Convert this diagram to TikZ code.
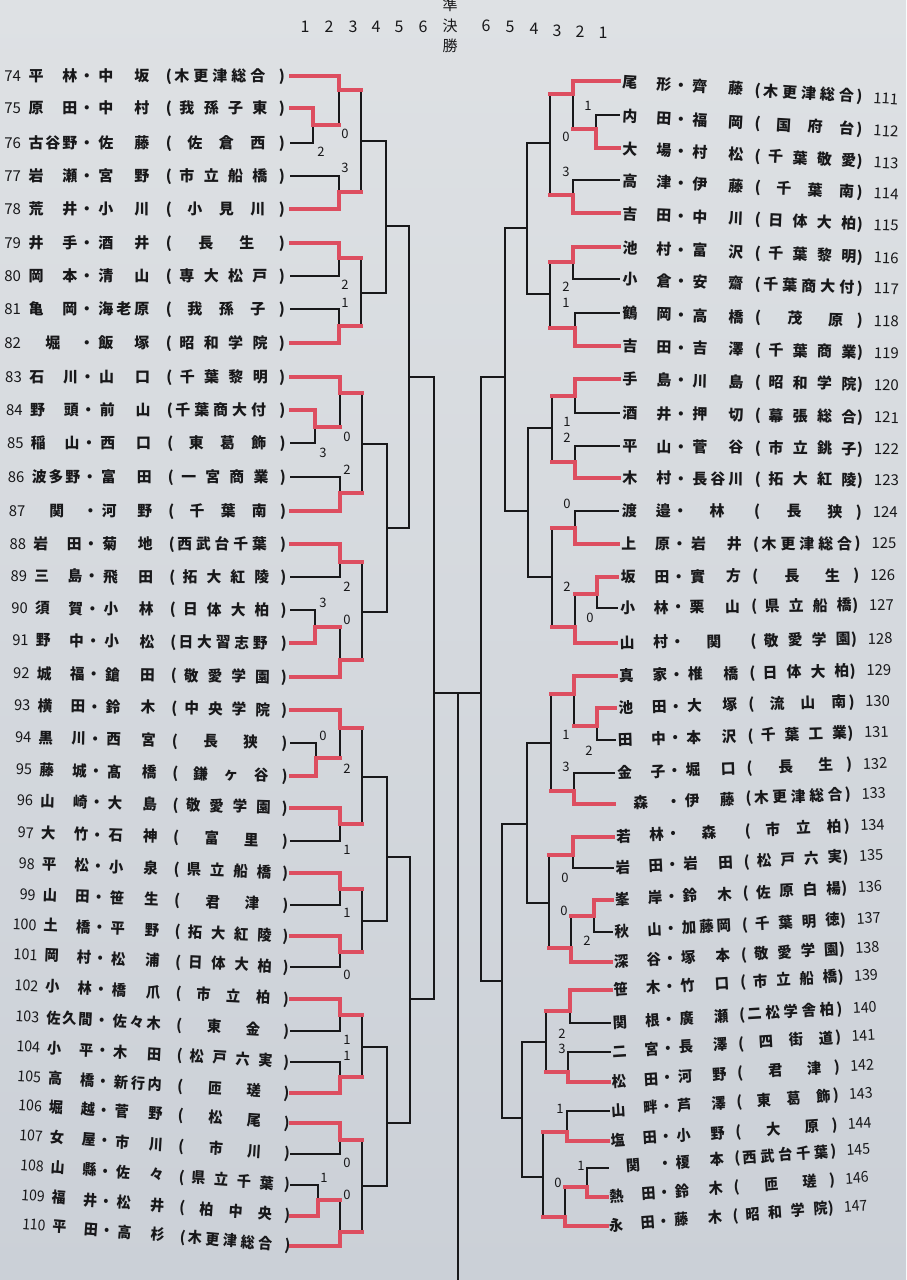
\documentclass[tikz,border=0pt]{standalone}
\usepackage{fontspec}
\setmainfont{Noto Sans CJK JP}
\newcommand\jpb{\bfseries}
\definecolor{bgtop}{RGB}{222,225,228}
\definecolor{bgbot}{RGB}{203,208,215}
\definecolor{redl}{RGB}{221,78,96}
\definecolor{ink}{RGB}{24,24,26}

\ExplSyntaxOn
\dim_new:N \l_jb_off_dim
\int_new:N \l_jb_n_int
\int_new:N \l_jb_k_int
\int_new:N \l_jb_m_int
\cs_new_protected:Npn \jb_place:nn #1 #2
 { \rlap{ \skip_horizontal:n { \dim_eval:n { ( #1 ) - \l_jb_off_dim } } \makebox[0pt]{#2} } }
\cs_new_protected:Npn \jb_spread:nnnn #1 #2 #3 #4
 {
  \int_set:Nn \l_jb_m_int { \tl_count:n {#4} }
  \int_compare:nNnTF \l_jb_m_int < 2
   { \jb_place:nn { #3 } {#4} }
   {
    \int_set:Nn \l_jb_n_int { \l_jb_m_int - 1 }
    \int_zero:N \l_jb_k_int
    \tl_map_inline:nn {#4}
     {
      \jb_place:nn { ( #1 ) + ( ( #2 ) - ( #1 ) ) * \l_jb_k_int / \l_jb_n_int } {##1}
      \int_incr:N \l_jb_k_int
     }
   }
 }
\cs_new_protected:Npn \jb_school:n #1
 {
  \int_case:nnF { \tl_count:n {#1} }
   {
    {5} { \jb_spread:nnnn {182pt}{258pt}{220pt}{#1} }
    {4} { \jb_spread:nnnn {187pt}{260pt}{224pt}{#1} }
    {3} { \jb_spread:nnnn {195pt}{258pt}{226pt}{#1} }
    {2} { \jb_spread:nnnn {206pt}{247pt}{226pt}{#1} }
   }
   { \jb_spread:nnnn {182pt}{258pt}{226pt}{#1} }
 }
\cs_new_protected:Npn \jb_rowL:nnnn #1 #2 #3 #4
 {
  \hbox_to_wd:nn {290pt}
   {
    \jb_place:nn {21pt} { \llap{\mdseries #1} }
    \jb_spread:nnnn {36pt}{70pt}{53pt}{#2}
    \jb_place:nn {87pt}{・}
    \jb_spread:nnnn {106pt}{142pt}{124pt}{#3}
    \jb_place:nn {169pt}{(}
    \jb_school:n {#4}
    \jb_place:nn {282pt}{)}
    \hfil
   }
 }
\cs_new_protected:Npn \jb_rowR:nnnn #1 #2 #3 #4
 {
  \hbox_to_wd:nn {300pt}
   {
    \dim_set:Nn \l_jb_off_dim {20pt}
    \jb_spread:nnnn {36pt}{70pt}{53pt}{#2}
    \jb_place:nn {87pt}{・}
    \jb_spread:nnnn {106pt}{142pt}{124pt}{#3}
    \jb_place:nn {164pt}{(}
    \dim_set:Nn \l_jb_off_dim {25pt}
    \jb_school:n {#4}
    \dim_set:Nn \l_jb_off_dim {20pt}
    \jb_place:nn {266pt}{)}
    \jb_place:nn {280pt}{ \rlap{\mdseries #1} }
    \hfil
   }
 }
\cs_set_eq:NN \RowL \jb_rowL:nnnn
\cs_set_eq:NN \RowR \jb_rowR:nnnn
\ExplSyntaxOff

\newcommand\lrow[5]{%
  \pgfmathsetmacro\jti{max(0,#1-74-8)/28}%
  \pgfmathsetmacro\jang{#1-74>14 ? -0.2*(#1-74-14) : 0}%
  \pgfmathsetmacro\jxe{290+5*\jti}%
  \pgfmathsetmacro\jxs{1-0.07*\jti}%
  \node[rowtxt,anchor=east,xscale=\jxs,rotate=\jang] (L#1) at (\jxe,#2) {\RowL{#1}{#3}{#4}{#5}};
  \coordinate (l#1) at (291,#2);
}
\newcommand\rrow[5]{%
  \pgfmathsetmacro\jtr{max(0,#1-111-12)/24}%
  \pgfmathsetmacro\jang{#1-111<24 ? -3.6+0.27*(#1-111) : 2.6+0.125*(#1-111-23)}%
  \pgfmathsetmacro\jxa{614-13*\jtr}%
  \pgfmathsetmacro\jxs{1-0.063*\jtr}%
  \pgfmathsetmacro\jxl{619-12*\jtr}%
  \node[rowtxt,anchor=west,xscale=\jxs,rotate=\jang] (R#1) at (\jxa,#2) {\RowR{#1}{#3}{#4}{#5}};
  \coordinate (r#1) at (\jxl,#2);
}
% bracket match: #1 input A, #2 input B, #3 vertical x, #4 output y, #5 output name, #6 winner (0/1/2), #7 style A, #8 style B
\newcommand\bk[8]{%
  \coordinate (#5) at (#3,#4);
  \draw[kw] (#1 -| #5) -- (#2 -| #5);
  \draw[#7] (#1) -- (#1 -| #5);
  \draw[#8] (#2) -- (#2 -| #5);
  \ifcase#6\or\draw[rw] (#1 -| #5) -- (#5);\or\draw[rw] (#2 -| #5) -- (#5);\fi
}

\begin{document}
\begin{tikzpicture}[x=1pt,y=-1pt,
  rw/.style={draw=redl,line width=3.3pt,line cap=rect},
  kw/.style={draw=ink,line width=1.2pt,line cap=rect},
  rowtxt/.style={inner sep=0pt,outer sep=0pt,text=ink,font=\jpb\fontsize{15}{16}\selectfont,text height=13.2pt,text depth=1.8pt},
  score/.style={inner sep=0pt,text=ink,font=\fontsize{13}{14}\selectfont},
  hdr/.style={inner sep=0pt,text=ink,font=\fontsize{16}{18}\selectfont}]
\useasboundingbox (0,0) rectangle (906,1280);
\shade[top color=bgtop,bottom color=bgbot] (0,0) rectangle (906,1280);

% header
\node[hdr] (h1) at (305,27) {1};
\node[hdr] (h2) at (329,27) {2};
\node[hdr] (h3) at (353,27) {3};
\node[hdr] (h4) at (376,27) {4};
\node[hdr] (h5) at (399,27) {5};
\node[hdr] (h6) at (423,27) {6};
\node[hdr] (k6) at (486,26) {6};
\node[hdr] (k5) at (510,27) {5};
\node[hdr] (k4) at (534,29) {4};
\node[hdr] (k3) at (557,31) {3};
\node[hdr] (k2) at (580,32) {2};
\node[hdr] (k1) at (603,33) {1};
\node[hdr,font=\fontsize{15}{16}\selectfont] (j1) at (450,5) {準};
\node[hdr,font=\fontsize{15}{16}\selectfont] (j2) at (450,26) {決};
\node[hdr,font=\fontsize{15}{16}\selectfont] (j3) at (450,46) {勝};

% left rows
\lrow{74}{76}{平林}{中坂}{木更津総合}
\lrow{75}{108}{原田}{中村}{我孫子東}
\lrow{76}{143}{古谷野}{佐藤}{佐倉西}
\lrow{77}{176}{岩瀬}{宮野}{市立船橋}
\lrow{78}{209}{荒井}{小川}{小見川}
\lrow{79}{243}{井手}{酒井}{長生}
\lrow{80}{276}{岡本}{清山}{専大松戸}
\lrow{81}{309}{亀岡}{海老原}{我孫子}
\lrow{82}{343}{堀}{飯塚}{昭和学院}
\lrow{83}{377}{石川}{山口}{千葉黎明}
\lrow{84}{410}{野頭}{前山}{千葉商大付}
\lrow{85}{443}{稲山}{西口}{東葛飾}
\lrow{86}{477}{波多野}{富田}{一宮商業}
\lrow{87}{511}{関}{河野}{千葉南}
\lrow{88}{544}{岩田}{菊地}{西武台千葉}
\lrow{89}{577}{三島}{飛田}{拓大紅陵}
\lrow{90}{610}{須賀}{小林}{日体大柏}
\lrow{91}{643}{野中}{小松}{日大習志野}
\lrow{92}{677}{城福}{鎗田}{敬愛学園}
\lrow{93}{710}{横田}{鈴木}{中央学院}
\lrow{94}{743}{黒川}{西宮}{長狭}
\lrow{95}{776}{藤城}{髙橋}{鎌ヶ谷}
\lrow{96}{808}{山崎}{大島}{敬愛学園}
\lrow{97}{841}{大竹}{石神}{富里}
\lrow{98}{873}{平松}{小泉}{県立船橋}
\lrow{99}{905}{山田}{笹生}{君津}
\lrow{100}{936}{土橋}{平野}{拓大紅陵}
\lrow{101}{967}{岡村}{松浦}{日体大柏}
\lrow{102}{999}{小林}{橋爪}{市立柏}
\lrow{103}{1031}{佐久間}{佐々木}{東金}
\lrow{104}{1062}{小平}{木田}{松戸六実}
\lrow{105}{1093}{高橋}{新行内}{匝瑳}
\lrow{106}{1123}{堀越}{菅野}{松尾}
\lrow{107}{1154}{女屋}{市川}{市川}
\lrow{108}{1185}{山縣}{佐々}{県立千葉}
\lrow{109}{1216}{福井}{松井}{柏中央}
\lrow{110}{1246}{平田}{高杉}{木更津総合}

% right rows
\rrow{111}{81}{尾形}{齊藤}{木更津総合}
\rrow{112}{115}{内田}{福岡}{国府台}
\rrow{113}{148}{大場}{村松}{千葉敬愛}
\rrow{114}{180}{高津}{伊藤}{千葉南}
\rrow{115}{213}{吉田}{中川}{日体大柏}
\rrow{116}{247}{池村}{富沢}{千葉黎明}
\rrow{117}{279}{小倉}{安齋}{千葉商大付}
\rrow{118}{313}{鶴岡}{高橋}{茂原}
\rrow{119}{346}{吉田}{吉澤}{千葉商業}
\rrow{120}{379}{手島}{川島}{昭和学院}
\rrow{121}{413}{酒井}{押切}{幕張総合}
\rrow{122}{446}{平山}{菅谷}{市立銚子}
\rrow{123}{478}{木村}{長谷川}{拓大紅陵}
\rrow{124}{511}{渡邉}{林}{長狭}
\rrow{125}{544}{上原}{岩井}{木更津総合}
\rrow{126}{577}{坂田}{實方}{長生}
\rrow{127}{608}{小林}{栗山}{県立船橋}
\rrow{128}{643}{山村}{関}{敬愛学園}
\rrow{129}{676}{真家}{椎橋}{日体大柏}
\rrow{130}{708}{池田}{大塚}{流山南}
\rrow{131}{740}{田中}{本沢}{千葉工業}
\rrow{132}{773}{金子}{堀口}{長生}
\rrow{133}{804}{森}{伊藤}{木更津総合}
\rrow{134}{837}{若林}{森}{市立柏}
\rrow{135}{868}{岩田}{岩田}{松戸六実}
\rrow{136}{900}{峯岸}{鈴木}{佐原白楊}
\rrow{137}{932}{秋山}{加藤岡}{千葉明徳}
\rrow{138}{962}{深谷}{塚本}{敬愛学園}
\rrow{139}{990}{笹木}{竹口}{市立船橋}
\rrow{140}{1023}{関根}{廣瀬}{二松学舎柏}
\rrow{141}{1052}{二宮}{長澤}{四街道}
\rrow{142}{1082}{松田}{河野}{君津}
\rrow{143}{1111}{山畔}{芦澤}{東葛飾}
\rrow{144}{1141}{塩田}{小野}{大原}
\rrow{145}{1168}{関}{榎本}{西武台千葉}
\rrow{146}{1197}{熱田}{鈴木}{匝瑳}
\rrow{147}{1226}{永田}{藤木}{昭和学院}

% left bracket
\bk{l75}{l76}{313}{125}{a1}{1}{rw}{kw}
\bk{l84}{l85}{315}{427}{a2}{1}{rw}{kw}
\bk{l90}{l91}{315}{627}{a3}{2}{kw}{rw}
\bk{l94}{l95}{316}{758}{a4}{2}{kw}{rw}
\bk{l108}{l109}{318}{1200}{a5}{2}{kw}{rw}
\bk{l74}{a1}{339}{90}{b1}{1}{rw}{rw}
\bk{l77}{l78}{339}{192}{b2}{2}{kw}{rw}
\bk{l79}{l80}{339}{258}{b3}{1}{rw}{kw}
\bk{l81}{l82}{339}{326}{b4}{2}{kw}{rw}
\bk{l83}{a2}{340}{393}{b5}{1}{rw}{rw}
\bk{l86}{l87}{340}{493}{b6}{2}{kw}{rw}
\bk{l88}{l89}{340}{562}{b7}{1}{rw}{kw}
\bk{a3}{l92}{340}{660}{b8}{2}{rw}{rw}
\bk{l93}{a4}{340}{728}{b9}{1}{rw}{rw}
\bk{l96}{l97}{340}{824}{b10}{1}{rw}{kw}
\bk{l98}{l99}{340}{889}{b11}{1}{rw}{kw}
\bk{l100}{l101}{340}{952}{b12}{1}{rw}{kw}
\bk{l102}{l103}{340}{1015}{b13}{1}{rw}{kw}
\bk{l104}{l105}{340}{1077}{b14}{2}{kw}{rw}
\bk{l106}{l107}{340}{1140}{b15}{1}{rw}{kw}
\bk{a5}{l110}{340}{1232}{b16}{2}{rw}{rw}
\bk{b1}{b2}{361}{141}{c1}{0}{rw}{rw}
\bk{b3}{b4}{361}{293}{c2}{0}{rw}{rw}
\bk{b5}{b6}{362}{444}{c3}{0}{rw}{rw}
\bk{b7}{b8}{362}{612}{c4}{0}{rw}{rw}
\bk{b9}{b10}{362}{777}{c5}{0}{rw}{rw}
\bk{b11}{b12}{362}{921}{c6}{0}{rw}{rw}
\bk{b13}{b14}{362}{1047}{c7}{0}{rw}{rw}
\bk{b15}{b16}{362}{1186}{c8}{0}{rw}{rw}
\bk{c1}{c2}{386}{226}{d1}{0}{kw}{kw}
\bk{c3}{c4}{387}{528}{d2}{0}{kw}{kw}
\bk{c5}{c6}{387}{857}{d3}{0}{kw}{kw}
\bk{c7}{c8}{387}{1123}{d4}{0}{kw}{kw}
\bk{d1}{d2}{409}{377}{e1}{0}{kw}{kw}
\bk{d3}{d4}{410}{999}{e2}{0}{kw}{kw}
\bk{e1}{e2}{434}{693}{f1}{0}{kw}{kw}

% right bracket
\bk{r112}{r113}{596}{129}{p1}{2}{kw}{rw}
\bk{r126}{r127}{597}{594}{p2}{1}{rw}{kw}
\bk{r130}{r131}{597}{726}{p3}{1}{rw}{kw}
\bk{r136}{r137}{594}{916}{p4}{1}{rw}{kw}
\bk{r145}{r146}{587}{1187}{p5}{2}{kw}{rw}
\bk{r111}{p1}{573}{94}{q1}{1}{rw}{rw}
\bk{r114}{r115}{573}{195}{q2}{2}{kw}{rw}
\bk{r116}{r117}{573}{262}{q3}{1}{rw}{kw}
\bk{r118}{r119}{575}{328}{q4}{2}{kw}{rw}
\bk{r120}{r121}{575}{396}{q5}{1}{rw}{kw}
\bk{r122}{r123}{575}{462}{q6}{2}{kw}{rw}
\bk{r124}{r125}{575}{528}{q7}{2}{kw}{rw}
\bk{p2}{r128}{575}{627}{q8}{2}{rw}{rw}
\bk{r129}{p3}{574}{694}{q9}{1}{rw}{rw}
\bk{r132}{r133}{574}{791}{q10}{2}{kw}{rw}
\bk{r134}{r135}{573}{855}{q11}{1}{rw}{kw}
\bk{p4}{r138}{571}{948}{q12}{2}{rw}{rw}
\bk{r139}{r140}{570}{1011}{q13}{1}{rw}{kw}
\bk{r141}{r142}{568}{1072}{q14}{2}{kw}{rw}
\bk{r143}{r144}{567}{1132}{q15}{2}{kw}{rw}
\bk{p5}{r147}{565}{1217}{q16}{2}{rw}{rw}
\bk{q1}{q2}{550}{143}{s1}{0}{rw}{rw}
\bk{q3}{q4}{550}{294}{s2}{0}{rw}{rw}
\bk{q5}{q6}{552}{428}{s3}{0}{rw}{rw}
\bk{q7}{q8}{552}{577}{s4}{0}{rw}{rw}
\bk{q9}{q10}{551}{743}{s5}{0}{rw}{rw}
\bk{q11}{q12}{549}{903}{s6}{0}{rw}{rw}
\bk{q13}{q14}{546}{1042}{s7}{0}{rw}{rw}
\bk{q15}{q16}{543}{1177}{s8}{0}{rw}{rw}
\bk{s1}{s2}{527}{228}{u1}{0}{kw}{kw}
\bk{s3}{s4}{528}{511}{u2}{0}{kw}{kw}
\bk{s5}{s6}{527}{824}{u3}{0}{kw}{kw}
\bk{s7}{s8}{522}{1118}{u4}{0}{kw}{kw}
\bk{u1}{u2}{505}{377}{v1}{0}{kw}{kw}
\bk{u3}{u4}{502}{981}{v2}{0}{kw}{kw}
\bk{v1}{v2}{481}{693}{w1}{0}{kw}{kw}

% semifinal centre
\coordinate (fin) at (458,1282);
\draw[kw] (f1) -- (w1);
\draw[kw] (f1 -| fin) -- (fin);

% scores left
\node[score] (sl1) at (345,134) {0};
\node[score] (sl2) at (321,152) {2};
\node[score] (sl3) at (345,168) {3};
\node[score] (sl4) at (345,285) {2};
\node[score] (sl5) at (345,303) {1};
\node[score] (sl6) at (347,437) {0};
\node[score] (sl7) at (323,453) {3};
\node[score] (sl8) at (347,470) {2};
\node[score] (sl9) at (347,587) {2};
\node[score] (sl10) at (323,603) {3};
\node[score] (sl11) at (347,620) {0};
\node[score] (sl12) at (323,736) {0};
\node[score] (sl13) at (347,769) {2};
\node[score] (sl14) at (347,850) {1};
\node[score] (sl15) at (347,913) {1};
\node[score] (sl16) at (347,975) {0};
\node[score] (sl17) at (347,1040) {1};
\node[score] (sl18) at (347,1056) {1};
\node[score] (sl19) at (347,1163) {0};
\node[score] (sl20) at (324,1178) {1};
\node[score] (sl21) at (347,1195) {0};
% scores right
\node[score] (sr1) at (588,106) {1};
\node[score] (sr2) at (566,137) {0};
\node[score] (sr3) at (566,172) {3};
\node[score] (sr4) at (566,287) {2};
\node[score] (sr5) at (566,303) {1};
\node[score] (sr6) at (567,422) {1};
\node[score] (sr7) at (567,438) {2};
\node[score] (sr8) at (567,504) {0};
\node[score] (sr9) at (567,587) {2};
\node[score] (sr10) at (590,618) {0};
\node[score] (sr11) at (566,735) {1};
\node[score] (sr12) at (589,751) {2};
\node[score] (sr13) at (566,767) {3};
\node[score] (sr14) at (565,878) {0};
\node[score] (sr15) at (564,911) {0};
\node[score] (sr16) at (587,941) {2};
\node[score] (sr17) at (562,1034) {2};
\node[score] (sr18) at (562,1049) {3};
\node[score] (sr19) at (560,1109) {1};
\node[score] (sr20) at (581,1166) {1};
\node[score] (sr21) at (558,1183) {0};
\end{tikzpicture}
\end{document}
